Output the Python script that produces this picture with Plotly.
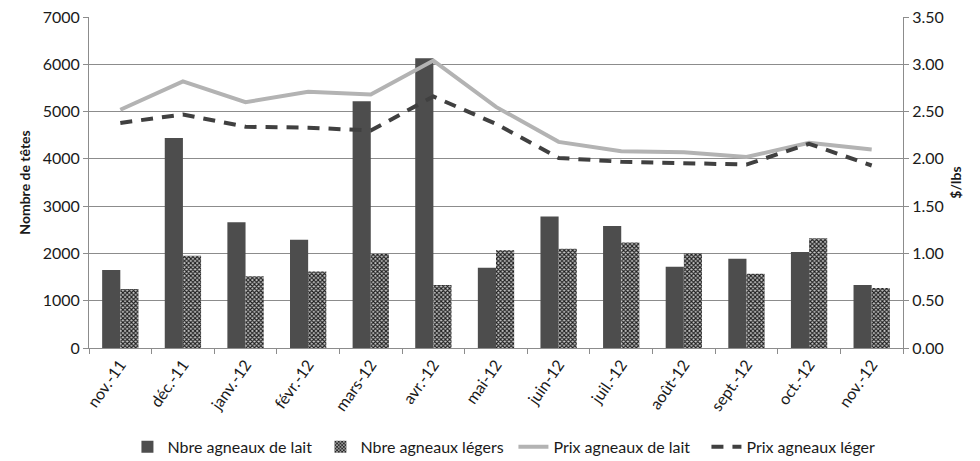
import plotly.graph_objects as go

months = ["nov.-11", "déc.-11", "janv.-12", "févr.-12", "mars-12", "avr.-12", "mai-12",
          "juin-12", "juil.-12", "août-12", "sept.-12", "oct.-12", "nov.-12"]
nbre_lait = [1650, 4440, 2660, 2290, 5220, 6130, 1700, 2780, 2580, 1720, 1890, 2030, 1330]
nbre_legers = [1250, 1950, 1520, 1620, 1990, 1330, 2070, 2100, 2230, 2000, 1570, 2320, 1270]
prix_lait = [2.52, 2.82, 2.60, 2.71, 2.68, 3.04, 2.55, 2.18, 2.08, 2.07, 2.02, 2.17, 2.10]
prix_leger = [2.38, 2.47, 2.34, 2.33, 2.30, 2.66, 2.37, 2.01, 1.97, 1.96, 1.94, 2.16, 1.93]

fig = go.Figure()
fig.add_trace(go.Bar(x=months, y=nbre_lait, name="Nbre agneaux de lait",
                     marker=dict(color="#4d4d4d", line=dict(width=0))))
fig.add_trace(go.Bar(x=months, y=nbre_legers, name="Nbre agneaux légers",
                     marker=dict(color="#9a9a9a", line=dict(width=0),
                                 pattern=dict(shape="x", fgcolor="#1e1e1e", bgcolor="#c8c8c8",
                                              size=3, solidity=0.6, fillmode="replace"))))
fig.add_trace(go.Scatter(x=months, y=prix_lait, name="Prix agneaux de lait", yaxis="y2",
                         mode="lines", line=dict(color="#b3b3b3", width=4)))
fig.add_trace(go.Scatter(x=months, y=prix_leger, name="Prix agneaux léger", yaxis="y2",
                         mode="lines", line=dict(color="#404040", width=4, dash="12px,9px")))

font = "Lato, Open Sans, sans-serif"
fig.update_layout(
    width=972, height=453,
    margin=dict(l=81, r=77, t=9, b=113),
    plot_bgcolor="white", paper_bgcolor="white",
    font=dict(family=font, size=16, color="#1a1a1a"),
    barmode="group", bargap=0.42, bargroupgap=0,
    xaxis=dict(showline=True, linecolor="#8c8c8c", linewidth=1, ticks="outside",
               tickson="boundaries", ticklen=5, tickcolor="#8c8c8c", tickangle=-55,
               tickfont=dict(size=16, family=font), showgrid=False, automargin=False),
    yaxis=dict(range=[0, 7001], tick0=0, dtick=1000, showgrid=True, gridcolor="#8c8c8c",
               gridwidth=1, showline=True, linecolor="#8c8c8c", ticks="outside", ticklen=5,
               tickcolor="#8c8c8c", zeroline=False, tickfont=dict(size=16), automargin=False,
               ticklabeloverflow="allow",
               title=dict(text="<b>Nombre de têtes</b>", font=dict(size=14), standoff=8)),
    yaxis2=dict(range=[0, 3.5005], tick0=0, dtick=0.5, tickformat=".2f", overlaying="y",
                side="right", showgrid=False, showline=True, linecolor="#8c8c8c",
                ticks="outside", ticklen=5, tickcolor="#8c8c8c", zeroline=False,
                tickfont=dict(size=16), automargin=False, ticklabeloverflow="allow",
                title=dict(text="<b>$/lbs</b>", font=dict(size=14), standoff=8)),
    legend=dict(orientation="h", x=0.52, xanchor="center", xref="container",
                y=0.031, yanchor="middle", yref="container",
                font=dict(size=16), traceorder="normal", itemwidth=30, entrywidth=148),
)
fig.write_html("out.html")
